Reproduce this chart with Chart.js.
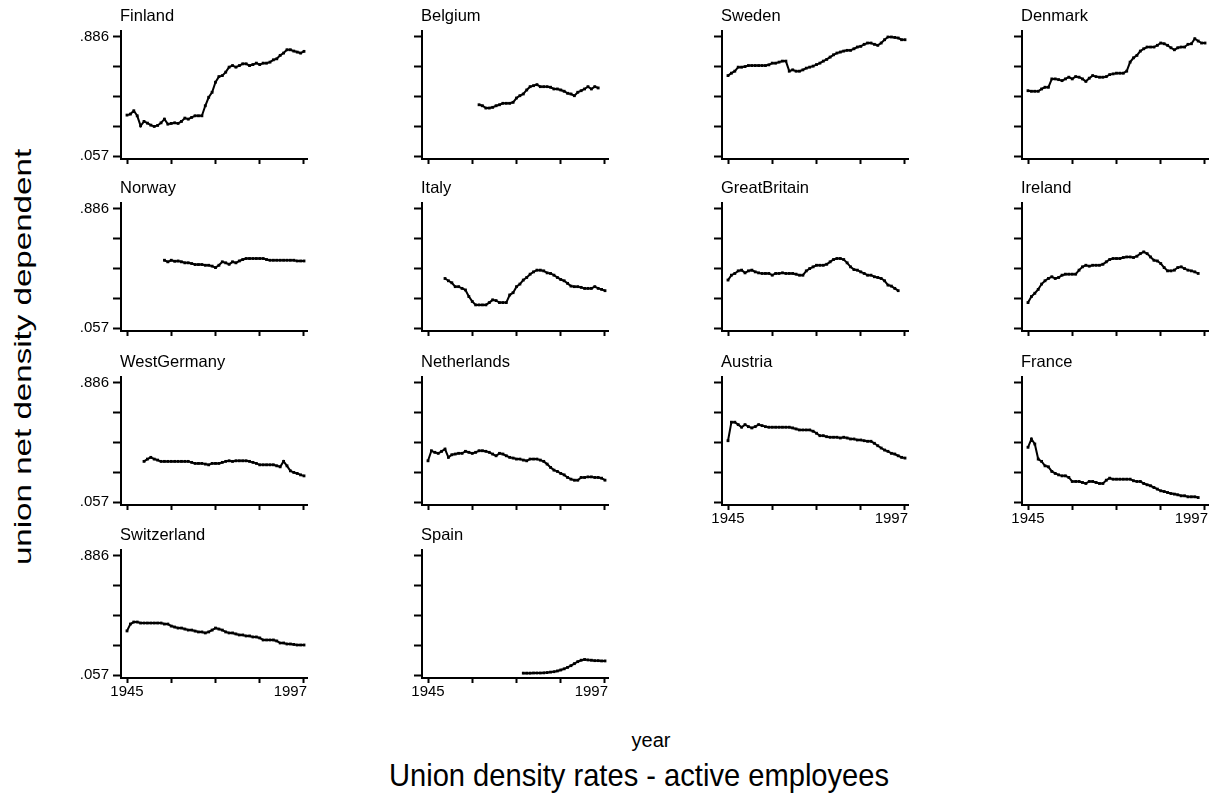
<!DOCTYPE html>
<html>
<head>
<meta charset="utf-8">
<title>Union density rates - active employees</title>
<script src="https://cdn.jsdelivr.net/npm/chart.js@4.4.1/dist/chart.umd.min.js"></script>
<style>
  html, body { margin: 0; padding: 0; background: #fff; }
  #page { position: relative; width: 1218px; height: 799px; overflow: hidden;
          font-family: "Liberation Sans", Arial, Helvetica, sans-serif; color: #000; }
  .panel { position: absolute; }
  .txt { position: absolute; white-space: nowrap; line-height: 1; color: #000; }
  #ytitle { left: 23px; top: 357px; font-size: 24px;
            transform: translate(-50%, -50%) rotate(-90deg) scaleX(1.38); }
  #xtitle { left: 651px; top: 730px; font-size: 20px; transform: translateX(-50%); }
  #maintitle { left: 639px; top: 759px; font-size: 32px; transform: translateX(-50%) scaleX(0.91); }
</style>
</head>
<body>
<div id="page">
  <div class="txt" id="ytitle">union net density dependent</div>
  <div class="txt" id="xtitle">year</div>
  <div class="txt" id="maintitle">Union density rates - active employees</div>
</div>
<script>
// Years on the horizontal axis
const years = [1945,1946,1947,1948,1949,1950,1951,1952,1953,1954,
               1955,1956,1957,1958,1959,1960,1961,1962,1963,1964,
               1965,1966,1967,1968,1969,1970,1971,1972,1973,1974,
               1975,1976,1977,1978,1979,1980,1981,1982,1983,1984,
               1985,1986,1987,1988,1989,1990,1991,1992,1993,1994,
               1995,1996,1997];

// Tick values and the labelled ends of each axis
const yTickValues = [0.057, 0.264, 0.4715, 0.679, 0.886];
const yTickLabels = ['.057', '', '', '', '.886'];
const xTickValues = [1945, 1958, 1971, 1984, 1997];
const xTickLabels = ['1945', '', '', '', '1997'];

// Panel order (row by row)
const countries = ['Finland', 'Belgium', 'Sweden', 'Denmark',
                   'Norway', 'Italy', 'GreatBritain', 'Ireland',
                   'WestGermany', 'Netherlands', 'Austria', 'France',
                   'Switzerland', 'Spain'];

// Union net density, one value per year (null = no observation)
const finland = [.342,.349,.372,.337,.267,.298,.286,.272,.263,.270,
                 .288,.314,.279,.284,.288,.284,.298,.321,.314,.326,
                 .337,.337,.337,.407,.466,.501,.571,.610,.617,.641,
                 .676,.687,.676,.687,.699,.699,.687,.694,.704,.694,
                 .704,.704,.711,.727,.734,.758,.774,.797,.797,.788,
                 .781,.774,.786];
const belgium = [null,null,null,null,null,null,null,null,null,null,
                 null,null,null,null,null,.414,.407,.391,.391,.396,
                 .407,.414,.424,.424,.424,.431,.461,.477,.489,.517,
                 .540,.547,.554,.540,.540,.540,.536,.524,.524,.517,
                 .508,.494,.489,.477,.501,.512,.524,.540,.524,.540,
                 .531,null,null];
const sweden = [.617,.634,.648,.676,.676,.680,.687,.687,.687,.687,
                .687,.687,.692,.704,.704,.711,.718,.718,.648,.657,
                .648,.648,.657,.669,.676,.683,.694,.704,.718,.730,
                .746,.762,.774,.781,.788,.793,.793,.804,.816,.821,
                .835,.844,.844,.835,.828,.844,.867,.886,.886,.883,
                .879,.867,.867];
const denmark = [.512,.508,.508,.508,.524,.536,.536,.594,.594,.589,
                 .582,.594,.606,.594,.610,.606,.594,.577,.599,.617,
                 .610,.606,.606,.610,.624,.629,.634,.634,.634,.648,
                 .711,.741,.758,.788,.804,.816,.816,.816,.828,.844,
                 .839,.828,.811,.797,.811,.816,.816,.835,.839,.874,
                 .858,.844,.844];
const norway = [null,null,null,null,null,null,null,null,null,null,
                null,.529,.518,.529,.522,.524,.518,.511,.511,.506,
                .499,.499,.499,.494,.494,.488,.478,.494,.518,.511,
                .501,.518,.511,.524,.534,.541,.541,.541,.541,.541,
                .541,.534,.529,.529,.529,.529,.529,.529,.529,.529,
                .524,.524,.524];
const italy = [null,null,null,null,null,.402,.386,.372,.345,.345,
               .333,.322,.276,.242,.218,.218,.218,.218,.234,.253,
               .248,.234,.234,.234,.287,.303,.345,.363,.391,.409,
               .432,.448,.460,.460,.455,.441,.437,.425,.409,.395,
               .386,.368,.349,.345,.345,.340,.333,.333,.333,.345,
               .333,.326,.317];
const greatBritain = [.391,.425,.437,.455,.460,.441,.455,.460,.448,.441,
                      .437,.437,.437,.425,.437,.437,.441,.437,.437,.437,
                      .432,.425,.425,.455,.471,.483,.494,.494,.494,.501,
                      .518,.534,.541,.541,.534,.511,.483,.464,.460,.448,
                      .437,.425,.425,.414,.409,.402,.386,.356,.349,.333,
                      .317,null,null];
const ireland = [.234,.276,.299,.326,.363,.386,.402,.414,.402,.409,
                 .425,.432,.432,.432,.432,.460,.483,.494,.488,.494,
                 .494,.494,.501,.518,.534,.541,.541,.541,.548,.552,
                 .552,.548,.557,.575,.587,.575,.552,.529,.524,.506,
                 .478,.455,.455,.460,.478,.483,.471,.460,.455,.448,
                 .437,null,null];
const westGermany = [null,null,null,null,null,.340,.356,.368,.356,.349,
                     .340,.340,.340,.340,.340,.340,.340,.340,.340,.333,
                     .326,.326,.326,.321,.316,.326,.326,.326,.333,.340,
                     .344,.340,.344,.344,.344,.344,.340,.333,.326,.316,
                     .316,.316,.316,.316,.309,.302,.340,.309,.274,.263,
                     .256,.246,.239];
const netherlands = [.344,.414,.403,.396,.410,.426,.368,.386,.391,.396,
                     .396,.410,.403,.396,.403,.414,.414,.410,.403,.391,
                     .379,.396,.391,.379,.368,.363,.356,.356,.349,.344,
                     .356,.356,.356,.349,.340,.321,.298,.279,.270,.256,
                     .246,.228,.216,.209,.209,.228,.228,.232,.232,.228,
                     .228,.223,.209];
const austria = [.484,.613,.613,.596,.578,.596,.582,.573,.582,.596,
                 .589,.582,.578,.578,.578,.578,.578,.578,.578,.573,
                 .566,.559,.559,.559,.559,.550,.536,.519,.519,.512,
                 .508,.508,.508,.503,.508,.503,.496,.496,.489,.489,
                 .484,.480,.480,.466,.449,.433,.419,.410,.396,.391,
                 .379,.368,.363];
const france = [.438,.496,.461,.356,.340,.309,.302,.270,.256,.246,
                .239,.239,.228,.200,.200,.200,.193,.186,.200,.200,
                .193,.186,.186,.209,.223,.216,.216,.216,.216,.216,
                .216,.205,.200,.200,.186,.177,.170,.158,.147,.135,
                .130,.123,.116,.112,.107,.100,.100,.093,.093,.093,
                .088,null,null];
const switzerland = [.364,.412,.426,.426,.419,.419,.419,.419,.419,.419,
                     .419,.412,.412,.398,.391,.384,.384,.377,.370,.370,
                     .363,.357,.357,.350,.357,.370,.384,.377,.370,.357,
                     .350,.350,.343,.336,.336,.329,.329,.322,.322,.315,
                     .301,.301,.301,.301,.294,.280,.280,.273,.273,.270,
                     .266,.266,.266];
const spain = [null,null,null,null,null,null,null,null,null,null,
               null,null,null,null,null,null,null,null,null,null,
               null,null,null,null,null,null,null,null,.070,.070,
               .070,.071,.071,.071,.072,.074,.077,.080,.085,.092,
               .100,.110,.122,.136,.150,.160,.165,.162,.160,.157,
               .157,.155,.155];

const seriesByCountry = [finland, belgium, sweden, denmark,
                         norway, italy, greatBritain, ireland,
                         westGermany, netherlands, austria, france,
                         switzerland, spain];

// ---- layout of the 4 x 4 grid ----
const FONT = '"Liberation Sans", Arial, Helvetica, sans-serif';
const colAxisX = [121, 422, 722, 1022];   // page x of each column's y axis
const rowTopTick = [37, 209, 383, 556];   // page y of the top y tick in each row
const AXIS_W = 110;                       // space left of the plot area in each canvas
const PLOT_W = 186, PLOT_H = 128;
const PAD_TOP = 30, PAD_RIGHT = 10, XAXIS_H = 30;
const TOP_GAP = 6, BOTTOM_GAP = 3, LEFT_GAP = 6, RIGHT_GAP = 3;

// scale ranges so that the end ticks sit slightly inside the axis lines
const yPerPx = (yTickValues[4] - yTickValues[0]) / (PLOT_H - TOP_GAP - BOTTOM_GAP);
const Y_MIN = yTickValues[0] - BOTTOM_GAP * yPerPx;
const Y_MAX = yTickValues[4] + TOP_GAP * yPerPx;
const xPerPx = (xTickValues[4] - xTickValues[0]) / (PLOT_W - LEFT_GAP - RIGHT_GAP);
const X_MIN = xTickValues[0] - LEFT_GAP * xPerPx;
const X_MAX = xTickValues[4] + RIGHT_GAP * xPerPx;

// panel title and end labels of the x axis
const panelText = {
  id: 'panelText',
  afterDraw(chart, args, opts) {
    const ctx = chart.ctx, area = chart.chartArea;
    ctx.save();
    ctx.fillStyle = '#000';
    ctx.font = '16.5px ' + FONT;
    ctx.textAlign = 'left';
    ctx.textBaseline = 'alphabetic';
    ctx.fillText(opts.title, area.left - 1, 20);
    if (opts.showX) {
      const xs = chart.scales.x;
      ctx.font = '15px ' + FONT;
      ctx.textBaseline = 'top';
      ctx.textAlign = 'center';
      ctx.fillText(xTickLabels[0], xs.getPixelForValue(xTickValues[0]), area.bottom + 6);
      ctx.textAlign = 'right';
      ctx.fillText(xTickLabels[4], xs.getPixelForValue(xTickValues[4]) + 3, area.bottom + 6);
    }
    ctx.restore();
  }
};

const page = document.getElementById('page');
const bottomRowOfCol = [3, 3, 2, 2];

countries.forEach((name, i) => {
  const row = Math.floor(i / 4), col = i % 4;
  const canvas = document.createElement('canvas');
  canvas.className = 'panel';
  const w = AXIS_W + PLOT_W + PAD_RIGHT, h = PAD_TOP + PLOT_H + XAXIS_H;
  canvas.width = w; canvas.height = h;
  canvas.style.width = w + 'px'; canvas.style.height = h + 'px';
  canvas.style.left = (colAxisX[col] - AXIS_W) + 'px';
  canvas.style.top = (rowTopTick[row] - PAD_TOP - TOP_GAP) + 'px';
  page.appendChild(canvas);

  new Chart(canvas, {
    type: 'line',
    data: {
      labels: years,
      datasets: [{
        data: seriesByCountry[i],
        borderColor: '#000',
        borderWidth: 2,
        pointStyle: 'rect',
        pointRadius: 2,
        pointBorderWidth: 0,
        pointBackgroundColor: '#000',
        tension: 0,
        spanGaps: false
      }]
    },
    options: {
      responsive: false,
      animation: false,
      devicePixelRatio: 1,
      events: [],
      layout: { padding: { top: PAD_TOP, right: PAD_RIGHT, left: 0, bottom: 0 } },
      plugins: {
        legend: { display: false },
        tooltip: { enabled: false },
        panelText: { title: name, showX: row === bottomRowOfCol[col] }
      },
      scales: {
        x: {
          type: 'linear',
          min: X_MIN, max: X_MAX,
          afterBuildTicks: s => { s.ticks = xTickValues.map(v => ({ value: v })); },
          afterFit: s => { s.height = XAXIS_H; },
          ticks: { display: false },
          grid: { drawOnChartArea: false, drawTicks: true, tickLength: 5, tickWidth: 2, tickColor: '#000' },
          border: { display: true, color: '#000', width: 2 }
        },
        y: {
          type: 'linear',
          min: Y_MIN, max: Y_MAX,
          afterBuildTicks: s => { s.ticks = yTickValues.map(v => ({ value: v })); },
          afterFit: s => { s.width = AXIS_W; },
          ticks: {
            display: col === 0,
            color: '#000',
            padding: 4,
            font: { family: FONT, size: 15 },
            callback: (v, idx) => yTickLabels[idx]
          },
          grid: { drawOnChartArea: false, drawTicks: true, tickLength: 8, tickWidth: 2, tickColor: '#000' },
          border: { display: true, color: '#000', width: 2 }
        }
      }
    },
    plugins: [panelText]
  });
});
</script>
</body>
</html>
